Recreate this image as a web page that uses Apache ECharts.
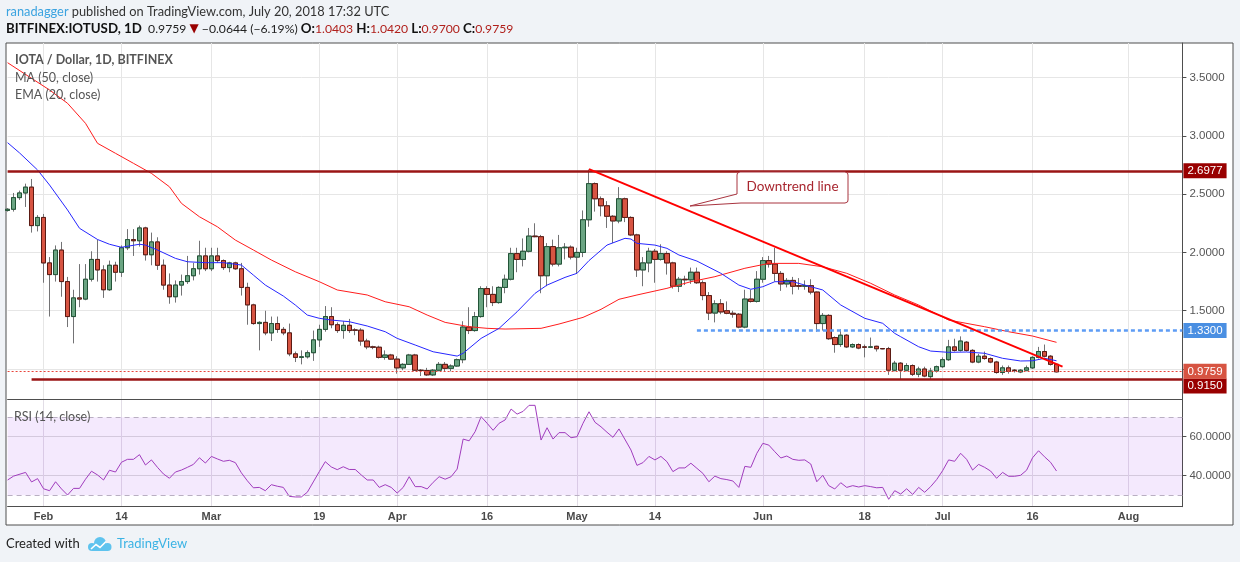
<!DOCTYPE html>
<html>
<head>
<meta charset="utf-8">
<title>IOTA / Dollar, 1D, BITFINEX</title>
<script src="https://cdn.jsdelivr.net/npm/echarts@6.0.0/dist/echarts.min.js"></script>
<style>
  html, body { margin: 0; padding: 0; background: #f0f3f7; }
  #main { width: 1240px; height: 562px; }
</style>
</head>
<body>
<div id="main"></div>
<script>
// daily candles 2018-01-26 .. 2018-07-20
var opens = [
  2.36, 2.37, 2.47, 2.51, 2.56, 2.23, 2.30, 1.91, 1.81, 2.02,
  1.75, 1.45, 1.61, 1.60, 1.77, 1.94, 1.85, 1.68, 1.89, 1.83,
  2.04, 2.11, 2.10, 2.21, 1.98, 2.09, 1.89, 1.72, 1.62, 1.72,
  1.75, 1.80, 1.86, 1.97, 1.86, 1.97, 1.93, 1.87, 1.91, 1.86,
  1.70, 1.55, 1.39, 1.40, 1.31, 1.39, 1.34, 1.31, 1.13, 1.10,
  1.105, 1.14, 1.25, 1.34, 1.45, 1.38, 1.33, 1.375, 1.335, 1.333,
  1.24, 1.19, 1.187, 1.10, 1.12, 1.085, 1.01, 1.04, 1.12, 0.99,
  0.987, 0.95, 0.99, 1.04, 1.006, 1.026, 1.08, 1.36, 1.33, 1.45,
  1.69, 1.64, 1.57, 1.70, 1.77, 1.99, 1.94, 2.01, 2.14, 2.135,
  1.80, 2.05, 1.90, 2.04, 2.045, 1.96, 2.00, 2.28, 2.59, 2.46,
  2.40, 2.31, 2.27, 2.46, 2.30, 2.15, 1.85, 1.91, 2.01, 1.94,
  1.99, 1.91, 1.71, 1.77, 1.765, 1.83, 1.74, 1.63, 1.48, 1.56,
  1.50, 1.478, 1.47, 1.36, 1.60, 1.58, 1.77, 1.93, 1.90, 1.82,
  1.73, 1.76, 1.715, 1.71, 1.715, 1.66, 1.39, 1.46, 1.27, 1.21,
  1.29, 1.19, 1.21, 1.19, 1.187, 1.195, 1.176, 1.175, 0.99, 1.05,
  0.99, 1.03, 0.955, 1.00, 0.935, 0.983, 1.02, 1.08, 1.19, 1.16,
  1.23, 1.16, 1.06, 1.11, 1.09, 1.06, 0.97, 1.01, 0.99, 0.975,
  0.99, 1.01, 1.10, 1.15, 1.11, 1.0403
];
var highs = [
  2.38, 2.51, 2.53, 2.59, 2.63, 2.32, 2.33, 1.96, 2.06, 2.09,
  1.79, 1.68, 1.90, 1.90, 2.01, 2.11, 1.89, 1.93, 1.92, 2.06,
  2.20, 2.20, 2.23, 2.22, 2.17, 2.13, 1.94, 1.82, 1.76, 1.81,
  1.97, 1.91, 2.10, 2.04, 2.04, 2.04, 1.94, 1.92, 1.92, 1.91,
  1.74, 1.56, 1.41, 1.50, 1.45, 1.45, 1.36, 1.39, 1.15, 1.16,
  1.16, 1.33, 1.38, 1.54, 1.53, 1.40, 1.41, 1.43, 1.35, 1.35,
  1.26, 1.20, 1.20, 1.16, 1.13, 1.11, 1.05, 1.13, 1.13, 1.00,
  1.01, 1.00, 1.06, 1.06, 1.04, 1.09, 1.41, 1.53, 1.49, 1.71,
  1.71, 1.71, 1.71, 1.81, 2.04, 2.04, 2.12, 2.21, 2.25, 2.15,
  2.08, 2.11, 2.15, 2.08, 2.06, 2.04, 2.36, 2.71, 2.60, 2.48,
  2.44, 2.32, 2.56, 2.47, 2.31, 2.16, 1.96, 2.04, 2.03, 2.07,
  2.01, 1.92, 1.79, 1.80, 1.87, 1.87, 1.76, 1.66, 1.59, 1.60,
  1.58, 1.50, 1.48, 1.68, 1.68, 1.84, 1.96, 1.97, 2.04, 1.84,
  1.78, 1.79, 1.78, 1.76, 1.77, 1.665, 1.48, 1.47, 1.28, 1.34,
  1.30, 1.22, 1.22, 1.21, 1.27, 1.20, 1.18, 1.19, 1.07, 1.06,
  1.05, 1.04, 1.02, 1.02, 1.01, 1.03, 1.10, 1.25, 1.26, 1.28,
  1.24, 1.17, 1.13, 1.15, 1.10, 1.07, 1.03, 1.03, 1.00, 1.00,
  1.03, 1.11, 1.19, 1.21, 1.12, 1.0420
];
var lows = [
  2.35, 2.35, 2.45, 2.39, 2.17, 2.18, 1.74, 1.45, 1.75, 1.62,
  1.36, 1.22, 1.53, 1.59, 1.75, 1.75, 1.61, 1.67, 1.75, 1.79,
  2.02, 1.97, 2.05, 1.93, 1.89, 1.85, 1.68, 1.56, 1.57, 1.63,
  1.73, 1.76, 1.81, 1.84, 1.84, 1.91, 1.85, 1.83, 1.85, 1.63,
  1.38, 1.38, 1.16, 1.29, 1.24, 1.31, 1.29, 1.11, 1.06, 1.04,
  1.09, 1.07, 1.19, 1.32, 1.35, 1.31, 1.26, 1.31, 1.29, 1.20,
  1.17, 1.17, 1.09, 1.08, 1.08, 0.96, 0.99, 1.035, 0.985, 0.94,
  0.94, 0.94, 0.98, 0.98, 0.98, 1.02, 1.05, 1.30, 1.32, 1.44,
  1.53, 1.54, 1.56, 1.65, 1.76, 1.83, 1.88, 2.00, 2.13, 1.65,
  1.71, 1.88, 1.88, 1.94, 1.94, 1.82, 1.96, 2.22, 2.35, 2.31,
  2.21, 2.08, 2.25, 2.26, 2.14, 1.79, 1.71, 1.83, 1.74, 1.93,
  1.81, 1.69, 1.66, 1.72, 1.73, 1.73, 1.59, 1.42, 1.40, 1.47,
  1.47, 1.44, 1.35, 1.35, 1.57, 1.57, 1.74, 1.87, 1.75, 1.67,
  1.70, 1.64, 1.68, 1.68, 1.64, 1.32, 1.33, 1.25, 1.14, 1.19,
  1.18, 1.18, 1.17, 1.10, 1.18, 1.15, 1.17, 0.95, 0.98, 0.91,
  0.98, 0.94, 0.93, 0.93, 0.91, 0.97, 1.01, 1.07, 1.15, 1.15,
  1.15, 1.05, 1.05, 1.08, 1.05, 0.96, 0.95, 0.96, 0.97, 0.965,
  0.98, 1.00, 1.09, 1.10, 1.03, 0.9700
];
var closes = [
  2.37, 2.47, 2.51, 2.56, 2.23, 2.30, 1.91, 1.81, 2.02, 1.75,
  1.45, 1.61, 1.60, 1.77, 1.94, 1.85, 1.68, 1.89, 1.83, 2.04,
  2.11, 2.10, 2.21, 1.98, 2.09, 1.89, 1.72, 1.62, 1.72, 1.75,
  1.80, 1.86, 1.97, 1.86, 1.97, 1.93, 1.87, 1.91, 1.86, 1.70,
  1.55, 1.39, 1.40, 1.31, 1.39, 1.34, 1.31, 1.13, 1.10, 1.105,
  1.14, 1.25, 1.34, 1.45, 1.38, 1.33, 1.375, 1.33, 1.333, 1.24,
  1.19, 1.187, 1.10, 1.12, 1.085, 1.01, 1.04, 1.12, 0.99, 0.987,
  0.95, 0.99, 1.04, 1.006, 1.026, 1.08, 1.36, 1.33, 1.45, 1.69,
  1.64, 1.57, 1.70, 1.77, 1.99, 1.94, 2.01, 2.14, 2.135, 1.80,
  2.05, 1.90, 2.04, 2.045, 1.96, 2.00, 2.28, 2.59, 2.46, 2.40,
  2.31, 2.27, 2.46, 2.30, 2.15, 1.85, 1.91, 2.01, 1.94, 1.99,
  1.91, 1.71, 1.77, 1.765, 1.83, 1.74, 1.63, 1.48, 1.56, 1.49,
  1.478, 1.47, 1.36, 1.60, 1.58, 1.77, 1.93, 1.90, 1.82, 1.73,
  1.76, 1.71, 1.71, 1.715, 1.66, 1.39, 1.46, 1.26, 1.21, 1.29,
  1.19, 1.21, 1.18, 1.187, 1.19, 1.174, 1.173, 0.99, 1.05, 0.99,
  1.03, 0.955, 1.00, 0.94, 0.983, 1.02, 1.08, 1.19, 1.16, 1.24,
  1.16, 1.06, 1.11, 1.09, 1.06, 0.97, 1.01, 0.98, 0.988, 0.99,
  1.01, 1.10, 1.15, 1.11, 1.0403, 0.9759
];

// MA(50) and EMA(20) as drawn, read at day offsets from 2018-01-26
var ma50Idx = [0, 4, 7, 10, 13, 15, 18, 21, 24, 27, 29, 32, 35, 38, 41, 44, 48, 52, 55, 60, 63, 67, 70, 73, 77, 80, 83, 89, 92, 96, 99, 102, 105, 110, 114, 118, 123, 127, 132, 136, 140, 144, 148, 152, 157, 163, 167, 171, 175];
var ma50Val = [3.627, 3.493, 3.393, 3.279, 3.107, 2.936, 2.850, 2.764, 2.678, 2.563, 2.421, 2.306, 2.220, 2.106, 2.021, 1.935, 1.834, 1.749, 1.678, 1.635, 1.577, 1.534, 1.463, 1.400, 1.363, 1.349, 1.343, 1.349, 1.386, 1.443, 1.512, 1.598, 1.635, 1.692, 1.749, 1.792, 1.864, 1.906, 1.906, 1.877, 1.821, 1.735, 1.635, 1.549, 1.420, 1.363, 1.320, 1.283, 1.229];
var ema20Idx = [0, 2, 5, 7, 10, 12, 15, 17, 19, 22, 23, 25, 28, 30, 33, 36, 39, 41, 43, 46, 48, 50, 52, 54, 57, 60, 63, 65, 68, 71, 75, 76, 79, 82, 85, 88, 90, 93, 95, 97, 100, 103, 104, 105, 108, 110, 112, 115, 119, 122, 124, 126, 128, 131, 133, 136, 139, 143, 146, 148, 149, 152, 154, 157, 160, 163, 166, 169, 171, 173, 175];
var ema20Val = [2.941, 2.853, 2.707, 2.578, 2.364, 2.207, 2.111, 2.070, 2.044, 2.070, 2.063, 2.021, 1.949, 1.920, 1.912, 1.912, 1.892, 1.806, 1.720, 1.626, 1.549, 1.463, 1.435, 1.420, 1.406, 1.369, 1.320, 1.263, 1.206, 1.148, 1.111, 1.135, 1.263, 1.349, 1.491, 1.649, 1.720, 1.786, 1.821, 1.930, 2.063, 2.121, 2.115, 2.078, 2.063, 2.035, 1.978, 1.926, 1.821, 1.720, 1.684, 1.706, 1.749, 1.749, 1.720, 1.678, 1.549, 1.435, 1.392, 1.306, 1.277, 1.191, 1.154, 1.143, 1.146, 1.135, 1.092, 1.069, 1.071, 1.092, 1.071];

// RSI(14) per day, null where no vertex could be read
var rsi = [
  37.8, 39.8, null, 41.7, 36.8, 38.5, 33.3, 32.3, 36.9, 33.2,
  30.1, 33.5, 33.5, 38.2, 42.3, 40.4, 37.8, 42.8, 41.9, 46.9,
  48.4, 48.4, 50.8, 45.5, 48.1, 44.3, 40.9, 38.7, 41.9, 42.9,
  44.3, 45.8, 49.2, 46.5, 49.9, 48.6, 47.4, 47.9, 46.7, 41.5,
  37.4, 33.8, 34.0, 32.3, 35.4, 34.6, 34.0, 29.4, 29.1, 29.1,
  31.5, 36.8, 42.1, 47.2, 44.5, 43.1, 44.6, 43.2, 43.2, 40.4,
  37.8, 37.8, 34.0, 35.4, 34.0, 31.1, 34.0, 39.5, 34.4, 34.4,
  33.2, 36.6, 39.5, 38.2, 39.5, 43.4, 58.8, 57.9, 62.6, 70.3,
  66.9, 63.3, 66.9, 68.6, 74.2, 71.6, 73.0, 76.1, 76.1, 58.3,
  64.6, 58.8, 62.1, 62.1, 59.5, 60.0, 66.9, 72.8, 67.4, 65.1,
  62.3, 59.7, 64.0, null, 53.2, 45.3, 46.7, 49.9, 48.1, 49.9,
  47.2, 42.1, 44.0, 44.0, 46.4, 43.8, 41.2, 36.9, 39.8, 38.5,
  38.0, 37.3, 34.0, 44.8, 44.3, 51.5, 56.6, 55.7, 52.3, 49.1,
  50.1, 48.4, 47.9, 48.1, 46.0, 36.9, 40.2, 34.9, 33.2, 36.4,
  34.0, 34.9, 34.2, 34.9, 34.4, 33.8, 34.0, 27.9, 32.3, 30.6,
  33.3, 30.4, 34.0, 31.5, 34.4, 38.0, 42.6, 48.1, 47.4, 51.5,
  48.4, 42.9, 45.8, 44.3, 42.4, 38.7, 41.7, 39.7, 39.7, 40.2,
  42.8, 49.2, 52.8, 49.7, 46.9, 42.4
];

// drawn levels
var resistance = 2.6977;
var support = 0.915, supportFrom = '2018-01-30';
var level133 = 1.33, level133From = '2018-05-21';
var lastPrice = 0.9759;
var trendFrom = ['2018-05-03', 2.715];
var trendTo = ['2018-07-21', 1.02];

var dateLabels = ['2018-02-01', '2018-02-14', '2018-03-01', '2018-03-19', '2018-04-01', '2018-04-16', '2018-05-01',
                  '2018-05-14', '2018-06-01', '2018-06-18', '2018-07-01', '2018-07-16', '2018-08-01'];
var months = ['Jan', 'Feb', 'Mar', 'Apr', 'May', 'Jun', 'Jul', 'Aug', 'Sep', 'Oct', 'Nov', 'Dec'];
var priceTicks = [1, 1.5, 2, 2.5, 3, 3.5];
var priceLabels = [1.5, 2, 2.5, 3, 3.5];
var rsiTicks = [40, 60];

// one category per calendar day, through 2018-08-10
var days = [];
var t0 = Date.UTC(2018, 0, 26);
for (var k = 0; k < 197; k++) {
  days.push(new Date(t0 + k * 86400000).toISOString().slice(0, 10));
}

var wickData = [], bodyData = [];
for (var i = 0; i < closes.length; i++) {
  wickData.push([opens[i], closes[i], lows[i], highs[i]]);
  bodyData.push([opens[i], closes[i], Math.min(opens[i], closes[i]), Math.max(opens[i], closes[i])]);
}
function pairs(idx, vals) {
  return idx.map(function (d, j) { return [days[d], vals[j]]; });
}
function isLabelDay(index, value) { return dateLabels.indexOf(value) !== -1; }
function dayText(value) {
  var p = value.split('-');
  return p[2] === '01' ? months[+p[1] - 1] : String(+p[2]);
}

var AXISFONT = '"Liberation Sans", Arial, sans-serif';
var UIFONT = 'Lato, "Open Sans", sans-serif';
var AXIS = '#4e4e4e';
var GRIDC = '#e6e6e6';

function levelLabel(text, bg, dy) {
  return {
    show: true, position: 'end', distance: 1, formatter: text,
    color: '#fff', backgroundColor: bg, fontFamily: AXISFONT, fontSize: 11.5,
    lineHeight: 11, padding: [2, 4, 2, 4], offset: [0, dy || 0]
  };
}

// callout outline: rounded box with a tail pointing at the trend line
var callout = [
  [740, 172], [845, 172], [847.5, 173], [848, 175], [848, 200], [847.5, 202], [845, 203],
  [741, 203], [690, 206], [737, 194], [737, 175], [737.5, 173]
];

var chart = echarts.init(document.getElementById('main'));

chart.setOption({
  backgroundColor: '#f0f3f7',
  animation: false,
  textStyle: { fontFamily: AXISFONT },
  grid: [
    { left: 7.6, right: 57.6, top: 43, height: 356, outerBoundsMode: 'none' },
    { left: 7.6, right: 57.6, top: 399.3, height: 107.4, outerBoundsMode: 'none' }
  ],
  xAxis: [
    {
      type: 'category', gridIndex: 0, data: days, boundaryGap: false,
      axisLine: { onZero: false, lineStyle: { color: AXIS } },
      axisTick: { show: false }, axisLabel: { show: false },
      splitLine: { show: true, interval: isLabelDay, lineStyle: { color: GRIDC } }
    },
    {
      type: 'category', gridIndex: 1, data: days, boundaryGap: false,
      axisLine: { onZero: false, lineStyle: { color: AXIS } },
      axisTick: { show: false },
      axisLabel: { interval: isLabelDay, formatter: dayText, color: '#4a4a4a', fontSize: 11, fontWeight: 'bold', margin: 5 },
      splitLine: { show: true, interval: isLabelDay, lineStyle: { color: '#e2dde6' } }
    }
  ],
  yAxis: [
    {
      type: 'value', gridIndex: 0, position: 'right', min: 0.743, max: 3.796,
      axisLine: { show: true, onZero: false, lineStyle: { color: AXIS } },
      axisTick: { show: true, length: 4, customValues: priceTicks, lineStyle: { color: AXIS } },
      axisLabel: { customValues: priceLabels, formatter: function (v) { return v.toFixed(4); }, color: '#555', fontSize: 11.5, margin: 7 },
      splitLine: { show: true, lineStyle: { color: GRIDC } }
    },
    {
      type: 'value', gridIndex: 1, position: 'right', min: 24.1, max: 79.2,
      axisLine: { show: true, onZero: false, lineStyle: { color: AXIS } },
      axisTick: { show: true, length: 4, customValues: rsiTicks, lineStyle: { color: AXIS } },
      axisLabel: { customValues: rsiTicks, formatter: function (v) { return v.toFixed(4); }, color: '#555', fontSize: 11.5, margin: 7 },
      splitLine: { show: true, lineStyle: { color: '#dcdcdc' } }
    }
  ],
  series: [
    {
      name: 'wicks', type: 'candlestick', xAxisIndex: 0, yAxisIndex: 0, data: wickData,
      barWidth: 5, silent: true,
      itemStyle: { color: '#737375', color0: '#737375', borderColor: '#737375', borderColor0: '#737375', borderWidth: 1 }
    },
    {
      name: 'IOTUSD', type: 'candlestick', xAxisIndex: 0, yAxisIndex: 0, data: bodyData,
      barWidth: 5, silent: true,
      itemStyle: { color: '#6ba583', color0: '#d75442', borderColor: '#225437', borderColor0: '#5b1a13', borderWidth: 1 }
    },
    {
      name: 'MA (50, close)', type: 'line', xAxisIndex: 0, yAxisIndex: 0, data: pairs(ma50Idx, ma50Val),
      showSymbol: false, silent: true, z: 3,
      lineStyle: { color: '#ff1c1c', width: 1 }
    },
    {
      name: 'EMA (20, close)', type: 'line', xAxisIndex: 0, yAxisIndex: 0, data: pairs(ema20Idx, ema20Val),
      showSymbol: false, silent: true, z: 4,
      lineStyle: { color: '#2626ff', width: 1 },
      markLine: {
        silent: true, symbol: ['none', 'none'],
        data: [
          { yAxis: resistance, lineStyle: { color: '#9a1414', width: 2.5, type: 'solid' }, label: levelLabel(resistance.toFixed(4), '#990000') },
          [
            { coord: [supportFrom, support], lineStyle: { color: '#9a1414', width: 2.5, type: 'solid' }, label: levelLabel(support.toFixed(4), '#990000', 7) },
            { coord: [days[days.length - 1], support] }
          ],
          [
            { coord: [level133From, level133], lineStyle: { color: '#5d9cf5', width: 2.5, type: [4, 3] }, label: levelLabel(level133.toFixed(4), '#4a8fe2') },
            { coord: [days[days.length - 1], level133] }
          ],
          { yAxis: lastPrice, lineStyle: { color: '#e8443a', width: 1, type: [2, 2] }, label: levelLabel(lastPrice.toFixed(4), '#d75442') },
          [
            { coord: trendFrom, lineStyle: { color: '#ff0000', width: 2, type: 'solid' }, label: { show: false } },
            { coord: trendTo }
          ]
        ]
      }
    },
    {
      name: 'RSI (14, close)', type: 'line', xAxisIndex: 1, yAxisIndex: 1, data: rsi,
      connectNulls: true, showSymbol: false, silent: true, z: 3,
      lineStyle: { color: '#a03cbd', width: 1 },
      markArea: {
        silent: true, itemStyle: { color: 'rgba(150, 40, 240, 0.1)' },
        data: [[{ yAxis: 30 }, { yAxis: 70 }]]
      },
      markLine: {
        silent: true, symbol: ['none', 'none'], label: { show: false },
        lineStyle: { color: '#b9afc2', width: 1, type: [5, 4] },
        data: [{ yAxis: 30 }, { yAxis: 70 }]
      }
    }
  ],
  graphic: [
    { type: 'rect', z: -10, silent: true, shape: { x: 6, y: 43, width: 1227, height: 482 }, style: { fill: '#ffffff', stroke: '#4e4e4e', lineWidth: 1 } },
    {
      type: 'text', z: 10, x: 6, y: 12, silent: true,
      style: {
        text: '{u|ranadagger} published on TradingView.com, July 20, 2018 17:32 UTC',
        font: '12.8px ' + UIFONT, fill: '#333', verticalAlign: 'middle',
        rich: { u: { font: '12.8px ' + UIFONT, fill: '#3ba3e0' } }
      }
    },
    {
      type: 'text', z: 10, x: 6, y: 29, silent: true,
      style: {
        text: '{b|BITFINEX:IOTUSD, 1D}  0.9759 {t|▼} −0.0644 (−6.19%) {b|O:}{r|1.0403} {b|H:}{r|1.0420} {b|L:}{r|0.9700} {b|C:}{r|0.9759}',
        font: '12.2px ' + UIFONT, fill: '#222', verticalAlign: 'middle',
        rich: {
          b: { font: 'bold 13.3px ' + UIFONT, fill: '#111' },
          t: { font: '12px "DejaVu Sans", sans-serif', fill: '#990000' },
          r: { font: '12.2px ' + UIFONT, fill: '#b0201c' }
        }
      }
    },
    { type: 'text', z: 10, x: 15, y: 60, silent: true, style: { text: 'IOTA / Dollar, 1D, BITFINEX', font: 'bold 12.5px ' + UIFONT, fill: '#555', verticalAlign: 'middle' } },
    { type: 'text', z: 10, x: 15, y: 78, silent: true, style: { text: 'MA (50, close)', font: '12.5px ' + UIFONT, fill: '#555', verticalAlign: 'middle' } },
    { type: 'text', z: 10, x: 15, y: 94.5, silent: true, style: { text: 'EMA (20, close)', font: '12.5px ' + UIFONT, fill: '#555', verticalAlign: 'middle' } },
    { type: 'text', z: 10, x: 14, y: 416.5, silent: true, style: { text: 'RSI (14, close)', font: '12.5px ' + UIFONT, fill: '#555', verticalAlign: 'middle' } },
    { type: 'polygon', z: 20, silent: true, shape: { points: callout }, style: { fill: '#ffffff', stroke: '#a8343f', lineWidth: 1 } },
    { type: 'text', z: 21, x: 792.5, y: 186.5, silent: true, style: { text: 'Downtrend line', font: '13.5px ' + UIFONT, fill: '#a8262f', align: 'center', verticalAlign: 'middle' } },
    { type: 'text', z: 10, x: 6, y: 544, silent: true, style: { text: 'Created with', font: '13px ' + UIFONT, fill: '#222', verticalAlign: 'middle' } },
    { type: 'circle', z: 10, silent: true, shape: { cx: 92, cy: 547, r: 4 }, style: { fill: '#5ec3ee' } },
    { type: 'circle', z: 10, silent: true, shape: { cx: 100, cy: 543, r: 6 }, style: { fill: '#5ec3ee' } },
    { type: 'circle', z: 10, silent: true, shape: { cx: 107.5, cy: 547, r: 4 }, style: { fill: '#5ec3ee' } },
    { type: 'rect', z: 10, silent: true, shape: { x: 92, y: 545, width: 16, height: 6 }, style: { fill: '#5ec3ee' } },
    { type: 'polyline', z: 11, silent: true, shape: { points: [[91, 549], [96, 544.5], [100, 547.5], [106, 541.5]] }, style: { stroke: '#ffffff', lineWidth: 1.6, fill: null } },
    { type: 'text', z: 10, x: 117, y: 544, silent: true, style: { text: 'TradingView', font: '13px ' + UIFONT, fill: '#3bb3e4', verticalAlign: 'middle' } }
  ]
});
</script>
</body>
</html>
